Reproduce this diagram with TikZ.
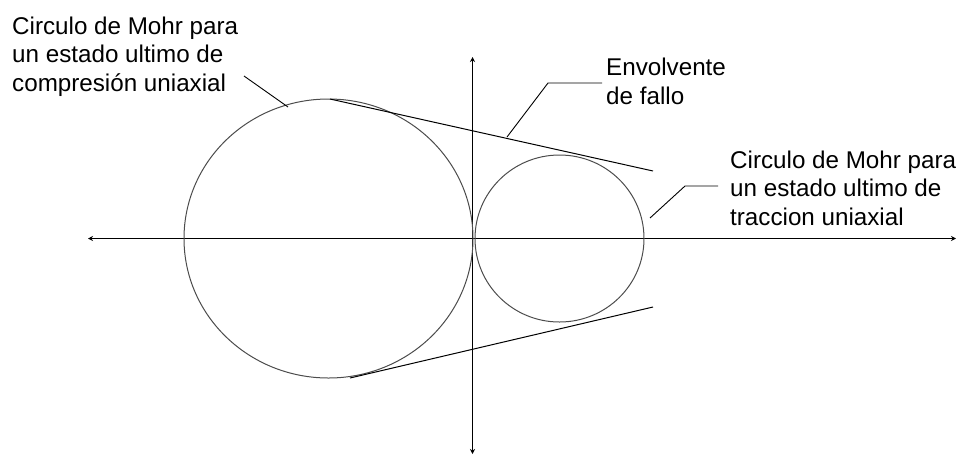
\documentclass[tikz,border=0pt]{standalone}
\usepackage{fontspec}
\setmainfont{Liberation Sans}
\usetikzlibrary{arrows.meta}
\begin{document}
\begin{tikzpicture}[x=1pt,y=-1pt,
  axis/.style={line width=1.2pt,-{Stealth[length=5pt,width=5pt]}},
  mohr/.style={line width=1pt,draw=black!70},
  env/.style={line width=1pt},
  lead/.style={line width=0.9pt},
  lbl/.style={font=\fontsize{24.2}{28.5}\selectfont,align=left,anchor=base west,inner sep=0pt}]
\useasboundingbox (0,0) rectangle (965,456);
% axes
\coordinate (o) at (472.5,238.5);
\coordinate (xl) at (88,238.5);
\coordinate (xr) at (956,238.5);
\coordinate (yt) at (472.5,57);
\coordinate (yb) at (472.5,454);
\draw[axis] (o) -- (xr);
\draw[axis] (o) -- (xl);
\draw[axis] (o) -- (yt);
\draw[axis] (o) -- (yb);
% Mohr circles
\draw[mohr] (328.5,238.5) ellipse [x radius=144.5, y radius=139.5];
\draw[mohr] (559.5,238.5) ellipse [x radius=84.5, y radius=83.5];
% envelopes
\coordinate (e1a) at (330,99);
\coordinate (e1b) at (653,171);
\coordinate (e2a) at (350,378);
\coordinate (e2b) at (653,307);
\draw[env] (e1a) -- (e1b);
\draw[env] (e2a) -- (e2b);
% labels (anchored at the baseline of their last line)
\node[lbl] (tc) at (12,91) {Circulo de Mohr para\\un estado ultimo de\\compresión uniaxial};
\node[lbl] (ef) at (606,104) {Envolvente\\de fallo};
\node[lbl] (tt) at (730,225) {Circulo de Mohr para\\un estado ultimo de\\traccion uniaxial};
% leaders
\coordinate (l1a) at (244,76);
\coordinate (l1b) at (288,107);
\draw[lead] (l1a) -- (l1b);
\coordinate (l2a) at (602,83);
\coordinate (l2b) at (548,83);
\coordinate (l2c) at (507,137);
\draw[lead] (l2a) -- (l2b) -- (l2c);
\coordinate (l3a) at (718,186);
\coordinate (l3b) at (685,186);
\coordinate (l3c) at (650,218);
\draw[lead] (l3a) -- (l3b) -- (l3c);
\end{tikzpicture}
\end{document}
